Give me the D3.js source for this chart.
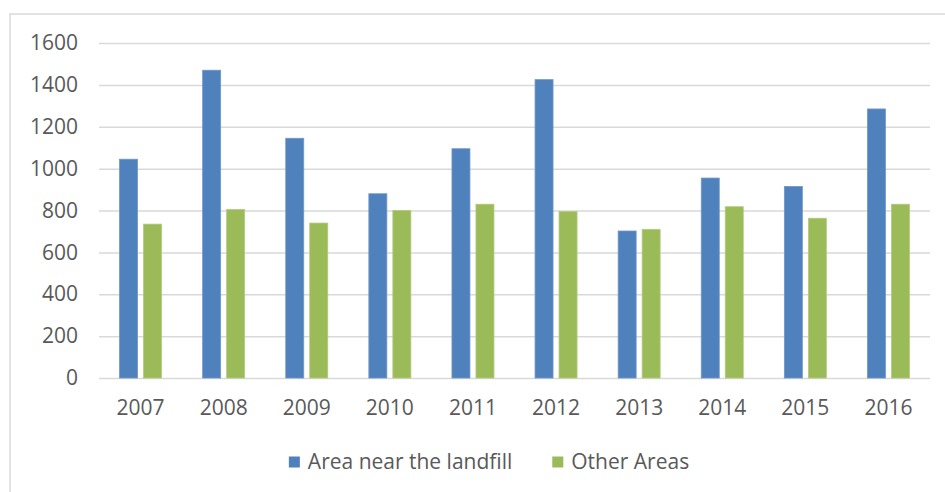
<!DOCTYPE html>
<html>
<head>
<meta charset="utf-8">
<script src="https://cdn.jsdelivr.net/npm/d3@7"></script>
<style>
  html, body { margin: 0; padding: 0; background: #fff; }
  svg { display: block; }
  text { font-family: "Open Sans", "Liberation Sans", sans-serif; fill: #595959; }
</style>
</head>
<body>
<svg id="chart" width="945" height="492"></svg>
<script>
const years = ["2007","2008","2009","2010","2011","2012","2013","2014","2015","2016"];
const seriesNames = ["Area near the landfill", "Other Areas"];
const nearLandfill = [1045, 1470, 1145, 880, 1095, 1425, 702, 955, 915, 1285];
const otherAreas   = [735, 805, 740, 800, 830, 795, 710, 818, 763, 830];
const yTicks = [0, 200, 400, 600, 800, 1000, 1200, 1400, 1600];
const colors = ["#4F81BD", "#9BBB59"];
const strokeColors = ["#6f97c9", "#b0cb7c"];

const svg = d3.select("#chart");

// chart frame
svg.append("rect")
  .attr("x", 10).attr("y", 14).attr("width", 960).attr("height", 500)
  .attr("fill", "#fff").attr("stroke", "#d9d9d9").attr("stroke-width", 1.5);

const plot = { left: 99, right: 930, top: 43, bottom: 378 };

const y = d3.scaleLinear().domain([0, 1600]).range([plot.bottom, plot.top]);
const x0 = d3.scaleBand().domain(years).range([plot.left, plot.right]).padding(0);
const groupW = 42;
const x1 = d3.scaleBand().domain([0, 1]).range([0, groupW]).paddingInner(0.25);

// gridlines + y axis labels
const yAxis = d3.axisLeft(y).tickValues(yTicks)
  .tickSize(-(plot.right - plot.left)).tickPadding(21).tickFormat(d3.format("d"));
const gY = svg.append("g").attr("transform", `translate(${plot.left},0)`).call(yAxis);
gY.select(".domain").remove();
gY.selectAll(".tick line").attr("stroke", "#d9d9d9").attr("stroke-width", 1.5);
gY.selectAll(".tick text").attr("font-size", 21).attr("fill", "#595959")
  .style("font-family", '"Open Sans", sans-serif');

// x axis labels
const xAxis = d3.axisBottom(x0).tickSize(0).tickPadding(22);
const gX = svg.append("g").attr("transform", `translate(0,${plot.bottom})`).call(xAxis);
gX.select(".domain").remove();
gX.selectAll(".tick text").attr("font-size", 21).attr("fill", "#595959")
  .style("font-family", '"Open Sans", sans-serif');

// bars
const data = years.map((yr, i) => ({ year: yr, values: [nearLandfill[i], otherAreas[i]] }));
const groups = svg.append("g").selectAll("g").data(data).join("g")
  .attr("transform", d => `translate(${x0(d.year) + (x0.bandwidth() - groupW) / 2},0)`);
groups.selectAll("rect").data(d => d.values.map((v, k) => ({ v, k }))).join("rect")
  .attr("x", d => x1(d.k))
  .attr("width", x1.bandwidth())
  .attr("y", d => y(d.v))
  .attr("height", d => y(0) - y(d.v))
  .attr("fill", d => colors[d.k])
  .attr("stroke", d => strokeColors[d.k])
  .attr("stroke-width", 0.8);

// legend
const legend = svg.append("g");
const legendY = 462;
const sq = 11;
const items = legend.selectAll("g").data(seriesNames).join("g");
items.append("rect").attr("width", sq).attr("height", sq).attr("y", legendY - sq / 2)
  .attr("fill", (d, i) => colors[i]);
items.append("text").attr("x", sq + 8).attr("y", legendY).attr("dy", "0.35em")
  .attr("font-size", 21).text(d => d);
let widths = [];
items.each(function () { widths.push(this.getBBox().width); });
const gap = 40;
const total = d3.sum(widths) + gap * (widths.length - 1);
let cx = 489 - total / 2;
items.attr("transform", (d, i) => {
  const t = `translate(${cx},0)`;
  cx += widths[i] + gap;
  return t;
});
</script>
</body>
</html>
